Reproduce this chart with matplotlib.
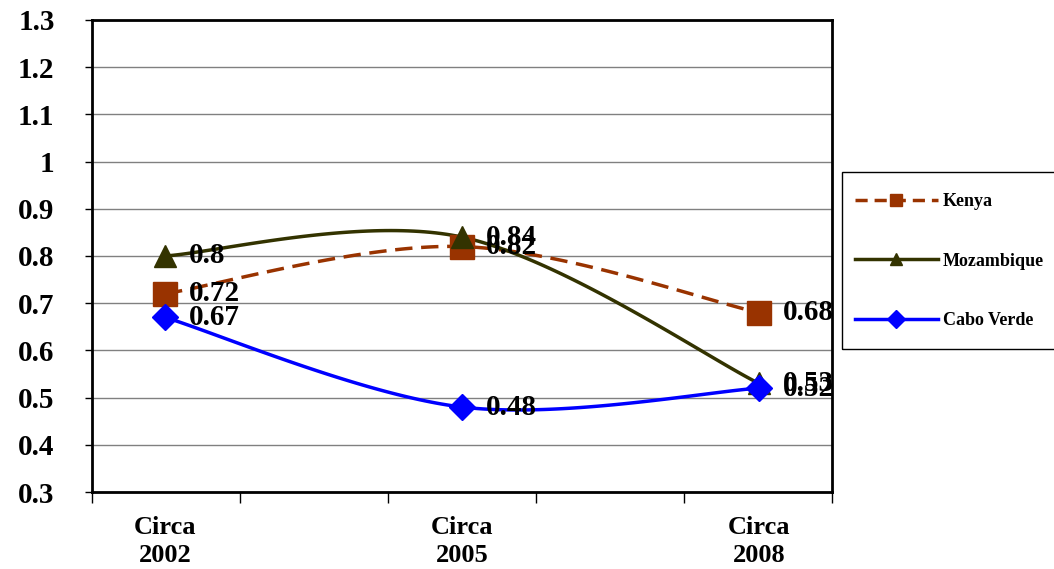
import numpy as np
import matplotlib
matplotlib.use("Agg")
import matplotlib.pyplot as plt
from matplotlib.patches import Rectangle

# series values per survey round
periods = ["Circa\n2002", "Circa\n2005", "Circa\n2008"]
kenya = [0.72, 0.82, 0.68]
mozambique = [0.80, 0.84, 0.53]
cabo_verde = [0.67, 0.48, 0.52]
y_ticks = [0.3, 0.4, 0.5, 0.6, 0.7, 0.8, 0.9, 1.0, 1.1, 1.2, 1.3]
y_tick_labels = ["0.3", "0.4", "0.5", "0.6", "0.7", "0.8", "0.9", "1", "1.1", "1.2", "1.3"]

plt.rcParams["font.family"] = ["Liberation Serif", "DejaVu Serif"]
plt.rcParams["font.weight"] = "bold"


def smooth(xs, ys, n=60):
    # spreadsheet-style smoothed line: cubic bezier with catmull-rom control points
    p = np.column_stack([xs, ys]).astype(float)
    out = []
    for i in range(len(p) - 1):
        p0 = p[i - 1] if i > 0 else p[i]
        p3 = p[i + 2] if i + 2 < len(p) else p[i + 1]
        c1 = p[i] + (p[i + 1] - p0) / 6
        c2 = p[i + 1] - (p3 - p[i]) / 6
        t = np.linspace(0, 1, n)[:, None]
        seg = ((1 - t) ** 3) * p[i] + 3 * ((1 - t) ** 2) * t * c1 + 3 * (1 - t) * t ** 2 * c2 + t ** 3 * p[i + 1]
        out.append(seg if i == 0 else seg[1:])
    out = np.vstack(out)
    return out[:, 0], out[:, 1]


fig = plt.figure(figsize=(10.54, 5.69), dpi=100)
ax = fig.add_axes([0.0873, 0.1353, 0.7021, 0.8296])

x = np.arange(len(periods))
series = [
    ("Kenya", kenya, "#993300", "s", (0, (5, 2.5)), 17),
    ("Mozambique", mozambique, "#333300", "^", "-", 16),
    ("Cabo Verde", cabo_verde, "#0000FF", "D", "-", 13),
]

handles = []
for name, vals, col, mk, ls, ms in series:
    sx, sy = smooth(x, vals)
    ax.plot(sx, sy, color=col, lw=2.5, ls=ls, zorder=3)
    ax.plot(x, vals, ls="none", marker=mk, ms=ms, color=col, zorder=4)
    h, = ax.plot([], [], color=col, lw=2.5, ls=ls if ls == "-" else (0, (3.5, 2)), marker=mk, ms=9)
    handles.append(h)

for name, vals, col, mk, ls, ms in series:
    for xi, v in zip(x, vals):
        ax.annotate(f"{v:g}", (xi, v), xytext=(17, 0), textcoords="offset points",
                    va="center", ha="left", fontsize=21, fontweight="bold", zorder=5)

ax.set_ylim(0.3, 1.3)
ax.set_yticks(y_ticks)
ax.set_yticklabels(y_tick_labels, fontsize=21, fontweight="bold")
ax.set_xlim(-0.246, 2.246)
ax.set_xticks(np.linspace(-0.246, 2.246, 6))
ax.set_xticklabels([])
for xi, lab in zip(x, periods):
    ax.text(xi, -0.05, lab, transform=ax.get_xaxis_transform(), ha="center", va="top",
            fontsize=19, fontweight="bold", linespacing=1.3)

ax.yaxis.grid(True, color="#808080", lw=1)
ax.set_axisbelow(True)
for s in ax.spines.values():
    s.set_linewidth(2)
    s.set_color("black")
ax.tick_params(axis="y", length=5, width=1, pad=22)
ax.tick_params(axis="x", length=8, width=1)

# legend box runs off the right edge
fig.patches.append(Rectangle((0.799, 0.3866), 0.25, 0.3111, transform=fig.transFigure,
                             fill=False, edgecolor="black", lw=1))
fig.legend(handles, [s[0] for s in series], loc="upper left", bbox_to_anchor=(0.804, 0.673),
           frameon=False, prop={"size": 13, "weight": "bold"}, handlelength=4.6,
           labelspacing=2.35, handletextpad=0.3, borderaxespad=0)

fig.savefig("out.png", dpi=100)
